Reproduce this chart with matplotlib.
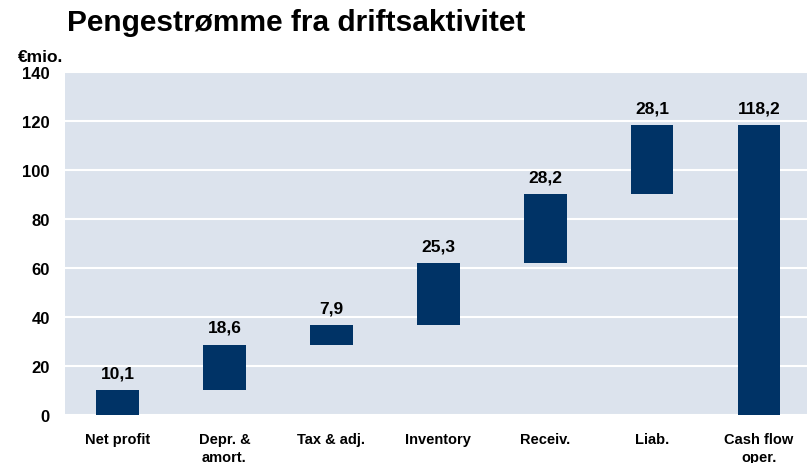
import matplotlib.pyplot as plt

# data
categories = ["Net profit", "Depr. &\namort.", "Tax & adj.", "Inventory", "Receiv.", "Liab.", "Cash flow\noper."]
values = [10.1, 18.6, 7.9, 25.3, 28.2, 28.1, 118.2]
labels = ["10,1", "18,6", "7,9", "25,3", "28,2", "28,1", "118,2"]
yticks = [0, 20, 40, 60, 80, 100, 120, 140]

plt.rcParams['font.family'] = ['Liberation Sans', 'DejaVu Sans']
plt.rcParams['font.weight'] = 'bold'

fig = plt.figure(figsize=(8.07, 4.64), dpi=100)
ax = fig.add_axes([65 / 807, 1 - 416 / 464, 1 - 65 / 807 + 0.02, (416 - 73) / 464])
ax.set_facecolor("#dce3ed")

# waterfall: each step starts where the previous ended, last bar is the total
bottoms = []
run = 0
for i, v in enumerate(values):
    if i == len(values) - 1:
        bottoms.append(0)
    else:
        bottoms.append(run)
        run += v

x = range(len(values))
ax.bar(x, values, bottom=bottoms, width=0.4, color="#003366", zorder=3)

for i, v in enumerate(values):
    ax.annotate(labels[i], (i, bottoms[i] + v), xytext=(0, 7), textcoords="offset points",
                ha="center", va="bottom", fontsize=12.5, fontweight="bold")

ax.set_ylim(0, 140)
ax.set_xlim(-0.49, 6.6)
ax.set_yticks(yticks)
ax.set_yticklabels([str(t) for t in yticks], fontsize=12, fontweight="bold")
ax.set_xticks(list(x))
ax.set_xticklabels(categories, fontsize=10.5, fontweight="bold", linespacing=1.4)
ax.tick_params(length=0, pad=12, axis="x")
ax.tick_params(length=0, pad=11, axis="y")
ax.grid(axis="y", color="white", linewidth=1.5, zorder=1)
for s in ax.spines.values():
    s.set_visible(False)

fig.text(67 / 807, 1 - 23 / 464, "Pengestrømme fra driftsaktivitet", fontsize=21.5,
         fontweight="bold", va="center", ha="left")
fig.text(18 / 807, 1 - 57 / 464, "€mio.", fontsize=12.5, fontweight="bold", va="center", ha="left")

fig.savefig("out.png", dpi=100)
